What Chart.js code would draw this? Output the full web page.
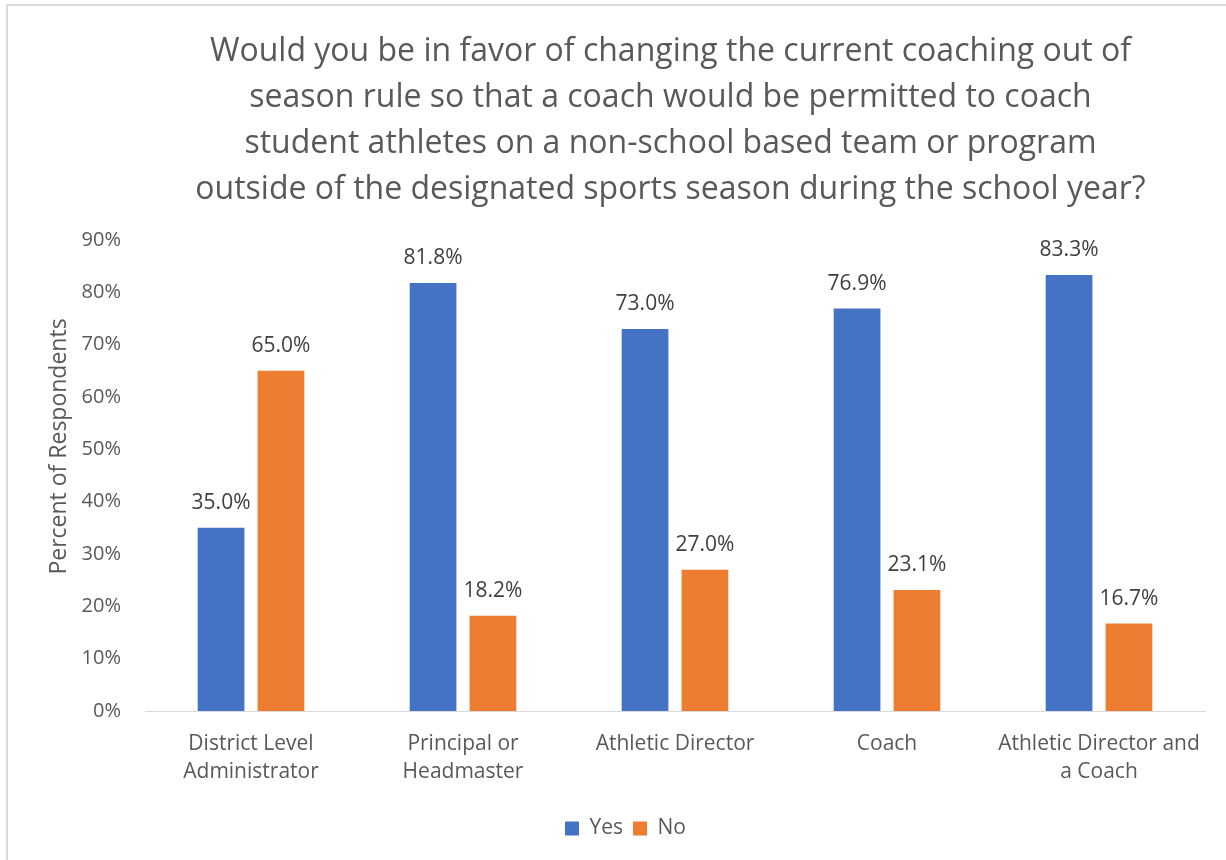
<!DOCTYPE html>
<html>
<head>
<meta charset="utf-8">
<script src="https://cdn.jsdelivr.net/npm/chart.js@4/dist/chart.umd.min.js"></script>
<style>
  html, body { margin: 0; padding: 0; background: #ffffff; }
  #wrap { position: relative; width: 1226px; height: 860px; overflow: hidden; }
  #frame { position: absolute; left: 6px; top: 4px; width: 1240px; height: 880px;
           border-left: 2px solid #d9d9d9; border-top: 2px solid #d9d9d9; pointer-events: none; }
  canvas { position: absolute; left: 0; top: 0; }
</style>
</head>
<body>
<div id="wrap">
  <canvas id="c" width="1226" height="860"></canvas>
  <div id="frame"></div>
</div>
<script>
const titleLines = [
  "Would you be in favor of changing the current coaching out of",
  "season rule so that a coach would be permitted to coach",
  "student athletes on a non-school based team or program",
  "outside of the designated sports season during the school year?"
];
const categories = [
  ["District Level", "Administrator"],
  ["Principal or", "Headmaster"],
  ["Athletic Director"],
  ["Coach"],
  ["Athletic Director and", "a Coach"]
];
const yesValues = [35.0, 81.8, 73.0, 76.9, 83.3];
const noValues = [65.0, 18.2, 27.0, 23.1, 16.7];
const seriesNames = ["Yes", "No"];
const yAxisTitle = "Percent of Respondents";

const textColor = "#595959";
const fontFamily = "'Open Sans', 'DejaVu Sans', sans-serif";

const dataLabelPlugin = {
  id: 'dataLabels',
  afterDatasetsDraw(chart) {
    const ctx = chart.ctx;
    ctx.save();
    ctx.font = "21px " + fontFamily;
    ctx.fillStyle = "#404040";
    ctx.textAlign = "center";
    ctx.textBaseline = "middle";
    chart.data.datasets.forEach((ds, di) => {
      const meta = chart.getDatasetMeta(di);
      meta.data.forEach((bar, i) => {
        ctx.fillText(ds.data[i].toFixed(1) + "%", bar.x, bar.y - 25);
      });
    });
    ctx.restore();
  }
};

const shiftPlugin = {
  id: 'shiftBlocks',
  afterLayout(chart) {
    if (chart.titleBlock) { chart.titleBlock.left += 68; chart.titleBlock.right += 68; }
    if (chart.legend) { chart.legend.left += 23; chart.legend.right += 23; }
    const ys = chart.scales.y;
    if (ys && !ys._titlePatched) {
      const orig = ys.drawTitle;
      ys.drawTitle = function () {
        const b = this.bottom;
        this.bottom = b - 58;
        orig.call(this);
        this.bottom = b;
      };
      ys._titlePatched = true;
    }
  }
};

new Chart(document.getElementById('c'), {
  type: 'bar',
  data: {
    labels: categories,
    datasets: [
      { label: seriesNames[0], data: yesValues, backgroundColor: '#4472C4',
        categoryPercentage: 0.565, barPercentage: 0.78 },
      { label: seriesNames[1], data: noValues, backgroundColor: '#ED7D31',
        categoryPercentage: 0.565, barPercentage: 0.78 }
    ]
  },
  options: {
    responsive: false,
    animation: false,
    devicePixelRatio: 1,
    layout: { padding: { top: 29, left: 0, right: 21, bottom: 11 } },
    plugins: {
      title: {
        display: true,
        text: titleLines,
        color: textColor,
        font: { family: fontFamily, size: 32, weight: 'normal', lineHeight: 1.4375 },
        padding: { top: 0, bottom: 27 }
      },
      legend: {
        display: true,
        position: 'bottom',
        labels: {
          color: textColor,
          font: { family: fontFamily, size: 21 },
          boxWidth: 14, boxHeight: 14, padding: 10
        }
      },
      tooltip: { enabled: false }
    },
    scales: {
      x: {
        grid: { display: false, drawTicks: false },
        border: { display: true, color: '#d9d9d9', width: 1 },
        ticks: {
          color: textColor,
          font: { family: fontFamily, size: 21, lineHeight: 1.333 },
          padding: 19,
          maxRotation: 0, autoSkip: false
        },
        afterFit(s) { s.height = 97; }
      },
      y: {
        min: 0, max: 90,
        grid: { display: false, drawTicks: false },
        border: { display: false },
        ticks: {
          stepSize: 10,
          color: textColor,
          font: { family: fontFamily, size: 20 },
          padding: 24,
          callback: (v) => v + '%'
        },
        title: {
          display: true,
          text: yAxisTitle,
          color: textColor,
          font: { family: fontFamily, size: 23 },
          padding: { top: 46, bottom: 0 }
        },
        afterFit(s) { s.width = 145; }
      }
    }
  },
  plugins: [dataLabelPlugin, shiftPlugin]
});
</script>
</body>
</html>
